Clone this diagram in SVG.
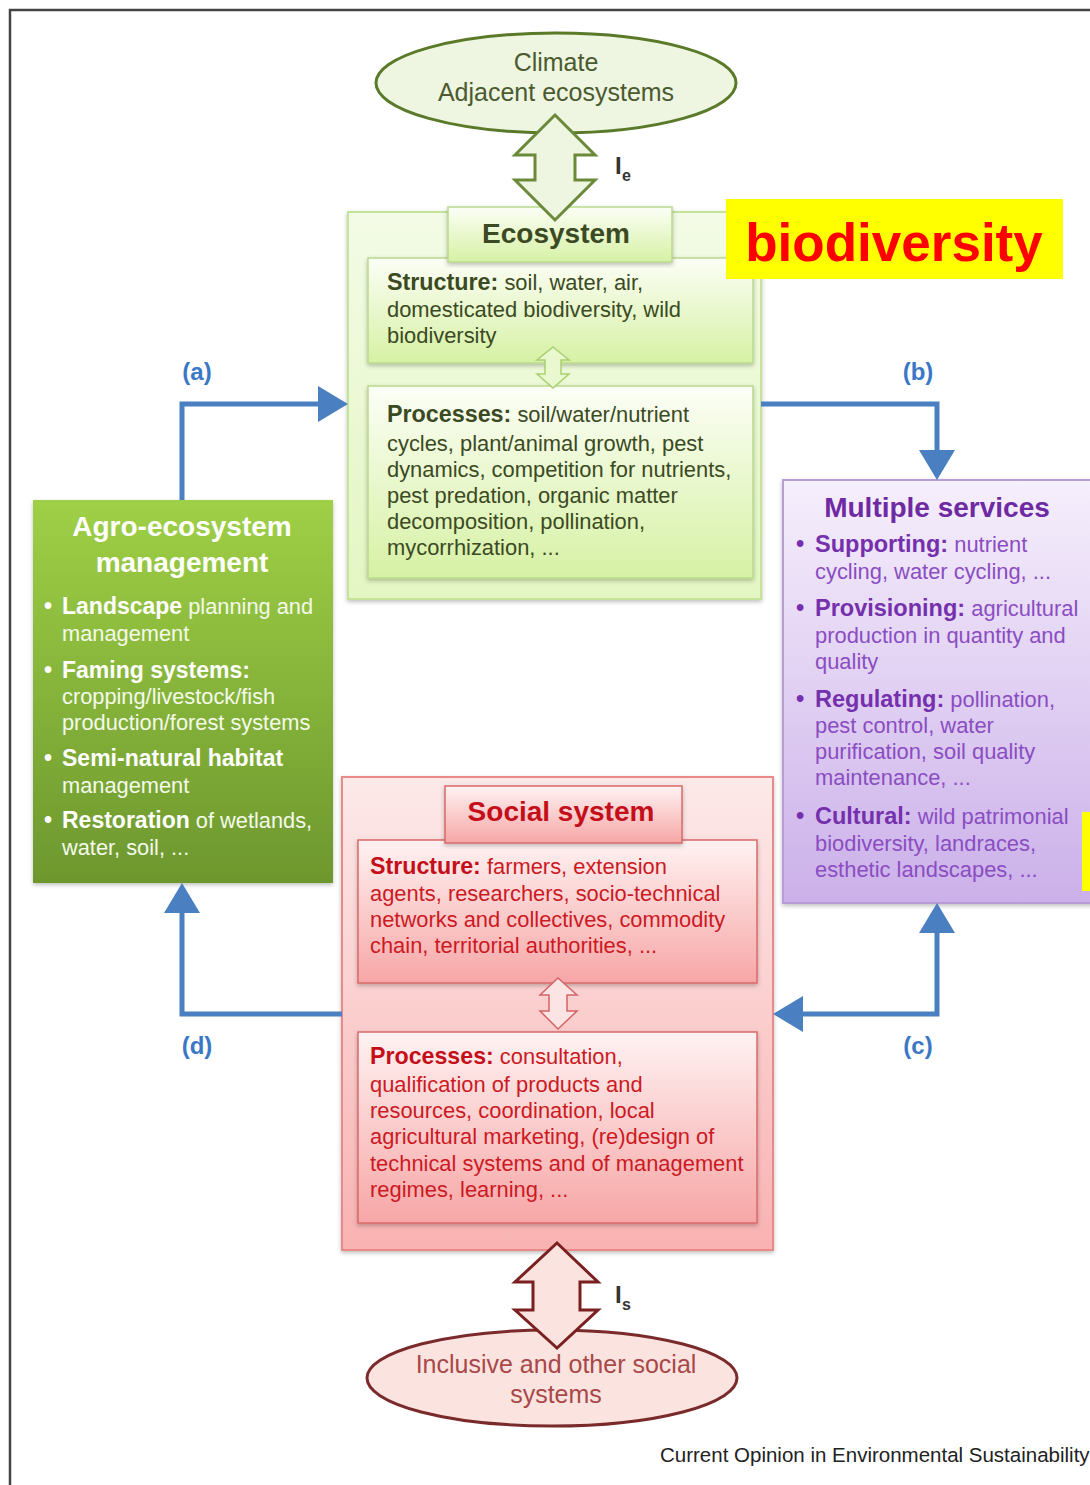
<svg xmlns="http://www.w3.org/2000/svg" width="1090" height="1485" viewBox="0 0 1090 1485">
<defs>
<style>
text{font-family:"Liberation Sans",Arial,Helvetica,sans-serif;}
.eco{fill:#3b4a23;font-size:21.9px;}
.ecob{font-weight:bold;font-size:23.3px;}
.agro{fill:#f4faea;font-size:21.8px;}
.agrob{fill:#ffffff;font-weight:bold;font-size:23px;}
.svc{fill:#8a4dc2;font-size:21.9px;}
.svcb{fill:#7530ad;font-weight:bold;font-size:23.5px;}
.soc{fill:#cc1a24;font-size:21.9px;}
.socb{fill:#c40e1a;font-weight:bold;font-size:23.2px;}
.title{font-weight:bold;font-size:28px;text-anchor:middle;}
.lbl{fill:#3a78c6;font-weight:bold;font-size:24px;text-anchor:middle;}
.blue{fill:none;stroke:#4a7fc1;stroke-width:5;}
</style>
<linearGradient id="gEcoOuter" x1="0" y1="0" x2="0" y2="1"><stop offset="0" stop-color="#f3fbe6"/><stop offset="1" stop-color="#e3f6c2"/></linearGradient>
<linearGradient id="gEcoInner" x1="0" y1="0" x2="0" y2="1"><stop offset="0" stop-color="#fcfef6"/><stop offset="1" stop-color="#d6f1a4"/></linearGradient>
<linearGradient id="gSocOuter" x1="0" y1="0" x2="0" y2="1"><stop offset="0" stop-color="#fde9e9"/><stop offset="1" stop-color="#f9b2b2"/></linearGradient>
<linearGradient id="gSocInner" x1="0" y1="0" x2="0" y2="1"><stop offset="0" stop-color="#fff2f2"/><stop offset="1" stop-color="#f7a6a6"/></linearGradient>
<linearGradient id="gSvc" x1="0" y1="0" x2="0" y2="1"><stop offset="0" stop-color="#f6effc"/><stop offset="1" stop-color="#cbb0e9"/></linearGradient>
<linearGradient id="gAgro" x1="0" y1="0" x2="0" y2="1"><stop offset="0" stop-color="#9fd046"/><stop offset="1" stop-color="#6d972e"/></linearGradient>
<filter id="sh" x="-5%" y="-5%" width="110%" height="115%"><feDropShadow dx="0" dy="2" stdDeviation="2" flood-color="#000" flood-opacity="0.25"/></filter>
<marker id="ah" viewBox="0 0 30 36" refX="0" refY="18" markerWidth="30" markerHeight="36" markerUnits="userSpaceOnUse" orient="auto-start-reverse"><path d="M0,0 L30,18 L0,36 Z" fill="#4a7fc1"/></marker>
</defs>
<rect width="1090" height="1485" fill="#ffffff"/>
<path d="M10,1485 V10 H1090" fill="none" stroke="#444" stroke-width="2.5"/>

<g id="climate">
<ellipse cx="556" cy="83" rx="180" ry="50" fill="#eef5e0" stroke="#5a7a2a" stroke-width="3"/>
<text x="556" y="71" text-anchor="middle" font-size="25" fill="#4b5a30">Climate</text>
<text x="556" y="101" text-anchor="middle" font-size="25" fill="#4b5a30">Adjacent ecosystems</text>
</g>

<g id="ecosystem">
<rect x="348" y="212" width="413" height="387" fill="url(#gEcoOuter)" stroke="#c5e49a" stroke-width="2" filter="url(#sh)"/>
<rect x="368" y="258" width="385" height="105" fill="url(#gEcoInner)" stroke="#b8da8c" stroke-width="1.5" filter="url(#sh)"/>
<rect x="368" y="386" width="385" height="192" fill="url(#gEcoInner)" stroke="#b8da8c" stroke-width="1.5" filter="url(#sh)"/>
<rect x="448" y="207" width="224" height="55" fill="url(#gEcoInner)" stroke="#b8da8c" stroke-width="1.5" filter="url(#sh)"/>
<text x="556" y="243" class="title" fill="#3b4a23">Ecosystem</text>
<text x="387" y="290" class="eco"><tspan class="ecob">Structure:</tspan> soil, water, air,</text>
<text x="387" y="317" class="eco">domesticated biodiversity, wild</text>
<text x="387" y="343" class="eco">biodiversity</text>
<text x="387" y="422" class="eco"><tspan class="ecob">Processes:</tspan> soil/water/nutrient</text>
<text x="387" y="451" class="eco">cycles, plant/animal growth, pest</text>
<text x="387" y="477" class="eco">dynamics, competition for nutrients,</text>
<text x="387" y="503" class="eco">pest predation, organic matter</text>
<text x="387" y="529" class="eco">decomposition, pollination,</text>
<text x="387" y="555" class="eco">mycorrhization, ...</text>
<path d="M553,347 L569,360 L561,360 L561,374 L569,374 L553,388 L537,374 L545,374 L545,360 L537,360 Z" fill="#eaf8cf" stroke="#a9cf70" stroke-width="1.5"/>
</g>

<g id="agro">
<rect x="33" y="500" width="300" height="383" fill="url(#gAgro)" filter="url(#sh)"/>
<text x="182" y="536" class="title" fill="#ffffff">Agro-ecosystem</text>
<text x="182" y="572" class="title" fill="#ffffff">management</text>
<text x="44" y="614" class="agrob">•</text>
<text x="62" y="614" class="agro"><tspan class="agrob">Landscape</tspan> planning and</text>
<text x="62" y="641" class="agro">management</text>
<text x="44" y="678" class="agrob">•</text>
<text x="62" y="678" class="agrob">Faming systems:</text>
<text x="62" y="704" class="agro">cropping/livestock/fish</text>
<text x="62" y="730" class="agro">production/forest systems</text>
<text x="44" y="766" class="agrob">•</text>
<text x="62" y="766" class="agrob">Semi-natural habitat</text>
<text x="62" y="793" class="agro">management</text>
<text x="44" y="828" class="agrob">•</text>
<text x="62" y="828" class="agro"><tspan class="agrob">Restoration</tspan> of wetlands,</text>
<text x="62" y="855" class="agro">water, soil, ...</text>
</g>

<g id="services">
<rect x="783" y="480" width="320" height="423" fill="url(#gSvc)" stroke="#b89cd8" stroke-width="2" filter="url(#sh)"/>
<text x="937" y="517" class="title" fill="#6e2aa2">Multiple services</text>
<text x="796" y="552" class="svcb">•</text>
<text x="815" y="552" class="svc"><tspan class="svcb">Supporting:</tspan> nutrient</text>
<text x="815" y="579" class="svc">cycling, water cycling, ...</text>
<text x="796" y="616" class="svcb">•</text>
<text x="815" y="616" class="svc"><tspan class="svcb">Provisioning:</tspan> agricultural</text>
<text x="815" y="643" class="svc">production in quantity and</text>
<text x="815" y="669" class="svc">quality</text>
<text x="796" y="707" class="svcb">•</text>
<text x="815" y="707" class="svc"><tspan class="svcb">Regulating:</tspan> pollination,</text>
<text x="815" y="733" class="svc">pest control, water</text>
<text x="815" y="759" class="svc">purification, soil quality</text>
<text x="815" y="785" class="svc">maintenance, ...</text>
<text x="796" y="824" class="svcb">•</text>
<text x="815" y="824" class="svc"><tspan class="svcb">Cultural:</tspan> wild patrimonial</text>
<text x="815" y="851" class="svc">biodiversity, landraces,</text>
<text x="815" y="877" class="svc">esthetic landscapes, ...</text>
</g>

<g id="social">
<rect x="342" y="777" width="431" height="473" fill="url(#gSocOuter)" stroke="#e98a8a" stroke-width="2" filter="url(#sh)"/>
<rect x="358" y="840" width="399" height="143" fill="url(#gSocInner)" stroke="#d86a6a" stroke-width="1.5" filter="url(#sh)"/>
<rect x="358" y="1032" width="399" height="191" fill="url(#gSocInner)" stroke="#d86a6a" stroke-width="1.5" filter="url(#sh)"/>
<rect x="445" y="786" width="237" height="57" fill="url(#gSocInner)" stroke="#d86a6a" stroke-width="1.5" filter="url(#sh)"/>
<text x="561" y="821" class="title" fill="#c40e1a">Social system</text>
<text x="370" y="874" class="soc"><tspan class="socb">Structure:</tspan> farmers, extension</text>
<text x="370" y="901" class="soc">agents, researchers, socio-technical</text>
<text x="370" y="927" class="soc">networks and collectives, commodity</text>
<text x="370" y="953" class="soc">chain, territorial authorities, ...</text>
<text x="370" y="1064" class="soc"><tspan class="socb">Processes:</tspan> consultation,</text>
<text x="370" y="1092" class="soc">qualification of products and</text>
<text x="370" y="1118" class="soc">resources, coordination, local</text>
<text x="370" y="1144" class="soc">agricultural marketing, (re)design of</text>
<text x="370" y="1171" class="soc">technical systems and of management</text>
<text x="370" y="1197" class="soc">regimes, learning, ...</text>
<path d="M558,978 L577,995 L567,995 L567,1011 L577,1011 L558,1029 L540,1011 L549,1011 L549,995 L540,995 Z" fill="#fde4e4" stroke="#d46464" stroke-width="1.5"/>
</g>

<g id="inclusive">
<ellipse cx="552" cy="1378" rx="185" ry="48" fill="#fbe3e0" stroke="#7a2a2a" stroke-width="3"/>
<text x="556" y="1373" text-anchor="middle" font-size="25" fill="#a84848">Inclusive and other social</text>
<text x="556" y="1403" text-anchor="middle" font-size="25" fill="#a84848">systems</text>
</g>

<g id="connectors">
<path d="M555,115 L595,155 L575,155 L575,180 L595,180 L555,220 L515,180 L535,180 L535,155 L515,155 Z" fill="#eef5e0" stroke="#6a8a3a" stroke-width="3" stroke-linejoin="miter"/>
<text x="615" y="174" font-size="24" font-weight="bold" fill="#333">I</text>
<text x="622" y="181" font-size="16" font-weight="bold" fill="#333">e</text>
<path d="M557,1243 L598,1282 L580,1282 L580,1310 L598,1310 L557,1348 L515,1310 L533,1310 L533,1282 L515,1282 Z" fill="#fbe3e0" stroke="#7a2020" stroke-width="3"/>
<text x="615" y="1303" font-size="24" font-weight="bold" fill="#333">I</text>
<text x="622" y="1310" font-size="16" font-weight="bold" fill="#333">s</text>
<path class="blue" d="M182,500 V404 H318" marker-end="url(#ah)"/>
<path class="blue" d="M761,404 H937 V450" marker-end="url(#ah)"/>
<path class="blue" d="M937,933 V1014 H803" marker-start="url(#ah)" marker-end="url(#ah)"/>
<path class="blue" d="M342,1014 H182 V913" marker-end="url(#ah)"/>
<text x="197" y="380" class="lbl">(a)</text>
<text x="918" y="380" class="lbl">(b)</text>
<text x="918" y="1054" class="lbl">(c)</text>
<text x="197" y="1054" class="lbl">(d)</text>
</g>

<g id="biodiversity">
<rect x="726" y="199" width="337" height="80" fill="#ffff00"/>
<text x="894" y="261" text-anchor="middle" font-size="53" font-weight="bold" fill="#ff0000">biodiversity</text>
</g>
<rect x="1082" y="812" width="10" height="79" fill="#ffff00"/>

<g id="footer">
<text x="660" y="1462" font-size="20.5" fill="#222">Current Opinion in Environmental Sustainability</text>
</g>
</svg>
